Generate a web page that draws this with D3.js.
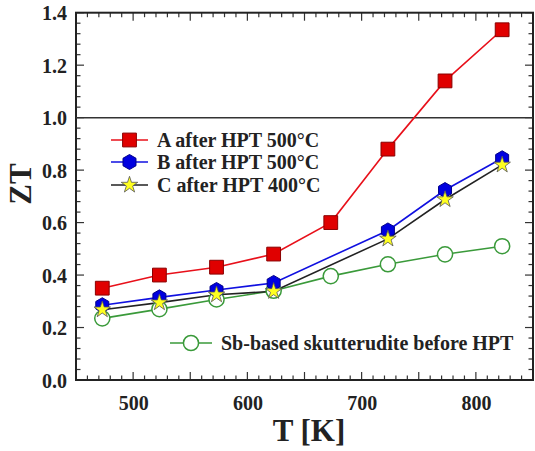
<!DOCTYPE html>
<html><head><meta charset="utf-8">
<script src="https://cdn.jsdelivr.net/npm/d3@7/dist/d3.min.js"></script>
<style>
html,body{margin:0;padding:0;background:#fff;}
text{font-family:"Liberation Serif","Times New Roman",serif;font-weight:bold;fill:#222;}
</style></head>
<body>
<svg id="chart" width="535" height="451"></svg>
<script>
const temps = [473, 523, 573, 623, 673, 723, 773, 823];
const tempsBC = [473, 523, 573, 623, 723, 773, 823];
const seriesA = [0.35, 0.40, 0.43, 0.48, 0.60, 0.88, 1.14, 1.335];
const seriesB = [0.285, 0.315, 0.343, 0.370, 0.570, 0.724, 0.845];
const seriesC = [0.268, 0.295, 0.325, 0.338, 0.538, 0.688, 0.820];
const seriesD = [0.235, 0.270, 0.307, 0.340, 0.396, 0.441, 0.479, 0.510];
const legendLabels = ["A after HPT 500\u00B0C", "B after HPT 500\u00B0C", "C after HPT 400\u00B0C", "Sb-based skutterudite before HPT"];
const xTickLabels = [500, 600, 700, 800];
const yTickLabels = [0.0, 0.2, 0.4, 0.6, 0.8, 1.0, 1.2, 1.4];
const xTitle = "T [K]";
const yTitle = "ZT";

const svg = d3.select("#chart");
const L = 76, R = 533, T = 12.7, B = 380;
const x = d3.scaleLinear().domain([450, 850]).range([L, R]);
const y = d3.scaleLinear().domain([0, 1.4]).range([B, T]);

// minor/major ticks on all four sides, pointing inward
const g = svg.append("g");
const xMinor = d3.range(450, 851, 10);
xMinor.forEach(v => {
  const len = (v % 50 === 0) ? 8 : 4.5;
  g.append("line").attr("x1", x(v)).attr("x2", x(v)).attr("y1", B).attr("y2", B - len).attr("stroke", "#333").attr("stroke-width", 1.2);
  g.append("line").attr("x1", x(v)).attr("x2", x(v)).attr("y1", T).attr("y2", T + len).attr("stroke", "#333").attr("stroke-width", 1.2);
});
const yMinor = d3.range(0, 36).map(i => i * 0.04);
yMinor.forEach(v => {
  const major = Math.abs(v * 5 - Math.round(v * 5)) < 1e-6;
  const len = major ? 8 : 4.5;
  g.append("line").attr("x1", L).attr("x2", L + len).attr("y1", y(v)).attr("y2", y(v)).attr("stroke", "#333").attr("stroke-width", 1.2);
  g.append("line").attr("x1", R).attr("x2", R - len).attr("y1", y(v)).attr("y2", y(v)).attr("stroke", "#333").attr("stroke-width", 1.2);
});

// axes labels via d3 axes (no tick lines)
const xAxis = d3.axisBottom(x).tickValues(xTickLabels).tickSize(0).tickPadding(0).tickFormat(d3.format("d"));
const xg = svg.append("g").attr("transform", `translate(0,${B})`).call(xAxis);
xg.select(".domain").remove();
xg.selectAll("text").attr("font-size", 20).attr("dy", null).attr("y", 30).style("font-family", "Liberation Serif").style("font-weight", "bold").attr("fill", "#222");

const yAxis = d3.axisLeft(y).tickValues(yTickLabels).tickSize(0).tickPadding(9).tickFormat(d3.format(".1f"));
const yg = svg.append("g").attr("transform", `translate(${L},0)`).call(yAxis);
yg.select(".domain").remove();
yg.selectAll("text").attr("font-size", 20).attr("dy", "0.35em").style("font-family", "Liberation Serif").style("font-weight", "bold").attr("fill", "#222");

// frame
svg.append("rect").attr("x", L).attr("y", T).attr("width", R - L).attr("height", B - T)
  .attr("fill", "none").attr("stroke", "#222").attr("stroke-width", 2);

// reference line at ZT = 1
svg.append("line").attr("x1", L).attr("x2", R).attr("y1", y(1.0)).attr("y2", y(1.0)).attr("stroke", "#333").attr("stroke-width", 1.5);

// titles
svg.append("text").attr("x", 309).attr("y", 441).attr("text-anchor", "middle").attr("font-size", 31).text(xTitle);
svg.append("text").attr("transform", "translate(31,184) rotate(-90)").attr("text-anchor", "middle").attr("font-size", 31).text(yTitle);

// symbols
const sq = d3.symbol().type(d3.symbolSquare).size(190)();
const star = d3.symbol().type(d3.symbolStar).size(85)();
const circ = d3.symbol().type(d3.symbolCircle).size(180)();
const hexR = 7.5;
const hex = d3.range(6).map(i => {
  const a = Math.PI / 3 * i - Math.PI / 2;
  return [hexR * Math.cos(a), hexR * Math.sin(a)];
});
const hexPath = "M" + hex.map(p => p.join(",")).join("L") + "Z";

const line = d3.line().x(d => x(d[0])).y(d => y(d[1]));

const series = [
  {xs: temps, ys: seriesD, color: "#3a9a3a", path: circ, fill: "#fff", stroke: "#3a9a3a", sw: 1.5},
  {xs: temps, ys: seriesA, color: "#e8101a", path: sq, fill: "#e00000", stroke: "#8a0000", sw: 1},
  {xs: tempsBC, ys: seriesB, color: "#1010e0", path: hexPath, fill: "#0000e0", stroke: "#00008a", sw: 1},
  {xs: tempsBC, ys: seriesC, color: "#222", path: star, fill: "#ffff20", stroke: "#555", sw: 0.8},
];
series.forEach(s => {
  const pts = s.xs.map((v, i) => [v, s.ys[i]]);
  svg.append("path").attr("d", line(pts)).attr("fill", "none").attr("stroke", s.color).attr("stroke-width", 1.6);
});
series.forEach(s => {
  const pts = s.xs.map((v, i) => [v, s.ys[i]]);
  svg.append("g").selectAll("path").data(pts).join("path")
    .attr("d", s.path).attr("transform", d => `translate(${x(d[0])},${y(d[1])})`)
    .attr("fill", s.fill).attr("stroke", s.stroke).attr("stroke-width", s.sw);
});

// legend
const leg = [
  {s: series[1], label: legendLabels[0], ly: 140, x1: 111, x2: 148},
  {s: series[2], label: legendLabels[1], ly: 162, x1: 111, x2: 148},
  {s: series[3], label: legendLabels[2], ly: 185, x1: 111, x2: 148},
  {s: series[0], label: legendLabels[3], ly: 343, x1: 170, x2: 212},
];
leg.forEach(l => {
  svg.append("line").attr("x1", l.x1).attr("x2", l.x2).attr("y1", l.ly).attr("y2", l.ly).attr("stroke", l.s.color).attr("stroke-width", 1.6);
  svg.append("path").attr("d", l.s.path).attr("transform", `translate(${(l.x1 + l.x2) / 2},${l.ly})`)
    .attr("fill", l.s.fill).attr("stroke", l.s.stroke).attr("stroke-width", l.s.sw);
  svg.append("text").attr("x", l.x2 + 9).attr("y", l.ly).attr("dy", "0.35em").attr("font-size", 20).text(l.label);
});
</script>
</body></html>
